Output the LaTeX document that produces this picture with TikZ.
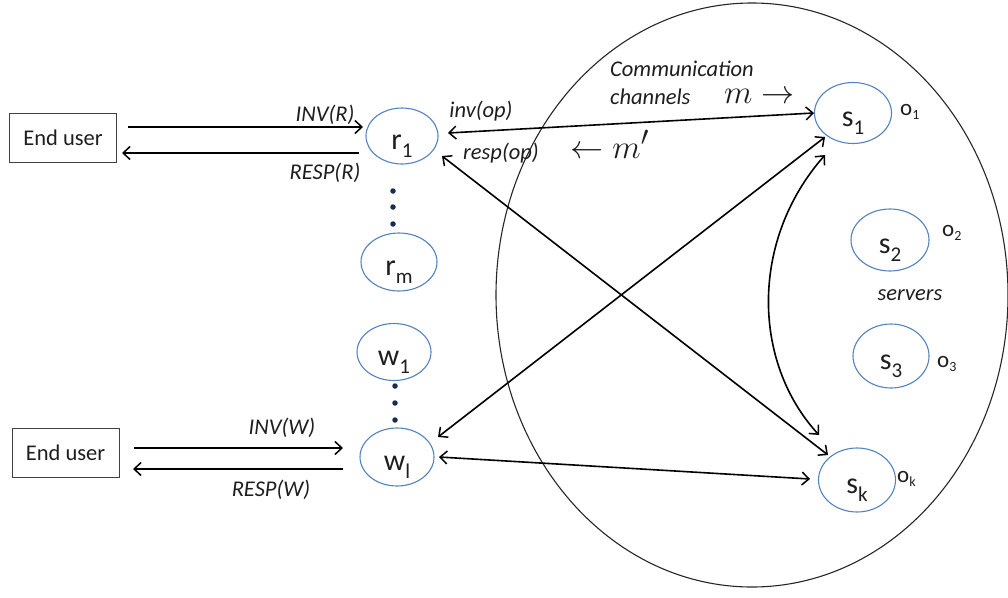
\documentclass[tikz,border=0pt]{standalone}
\usepackage{fontspec}
\setmainfont{Carlito}
\usetikzlibrary{shapes.geometric,arrows.meta}
\definecolor{nodeblue}{RGB}{84,130,188}
\definecolor{txt}{RGB}{30,30,30}
\definecolor{dotcol}{RGB}{25,45,80}
\newcommand\nsub[1]{\raisebox{-8pt}{\fontsize{21}{21}\selectfont #1}}
\newcommand\osub[1]{\raisebox{-4pt}{\fontsize{14}{14}\selectfont #1}}
\newcommand\bigmath[1]{\scalebox{1.33}{$#1$}}
\begin{document}
\begin{tikzpicture}[x=1pt,y=-1pt,
  proc/.style={ellipse,draw=nodeblue,line width=1.1pt,inner sep=0pt,
    minimum width=75pt,minimum height=58pt,text height=32pt,text depth=6pt,
    text=txt,font=\fontsize{30}{30}\selectfont},
  userbox/.style={draw=black!75,line width=1pt,inner sep=0pt,
    minimum width=107pt,minimum height=49pt,text=txt,font=\fontsize{22.5}{22.5}\selectfont},
  lbl/.style={inner sep=0pt,text=txt,font=\fontsize{22.5}{22.5}\selectfont\itshape},
  objlbl/.style={inner sep=0pt,anchor=base west,text=txt,font=\fontsize{23}{23}\selectfont},
  mathlbl/.style={inner sep=0pt,anchor=base west,text=txt,font=\fontsize{24.88}{24.88}\selectfont},
  tip/.tip={Straight Barb[length=7pt,width=13pt,line width=1.5pt]},
  arr/.style={line width=1.6pt,-tip},
  darr/.style={line width=1.6pt,tip-tip},
  vdot/.style={circle,fill=dotcol,inner sep=0pt,minimum size=5.5pt}]
\useasboundingbox (0,0) rectangle (1008,597);

% network region
\node[ellipse,draw=black!85,line width=1.1pt,inner sep=0pt,
  minimum width=512pt,minimum height=584pt] (net) at (752,295) {};

% end users
\node[userbox] (eu1) at (63,137.5) {End user};
\node[userbox] (eu2) at (65.5,452.5) {End user};

% clients
\node[proc,minimum width=72pt,minimum height=56pt] (r1) at (402,136) {r\nsub{1}};
\node[proc,minimum width=76pt] (rm) at (399,262) {r\nsub{m}};
\node[proc,minimum width=74pt,minimum height=57pt] (w1) at (394,352) {w\nsub{1}};
\node[proc,minimum width=74pt] (wl) at (397,457) {w\nsub{l}};

\node[vdot] (d1) at (393,191) {};
\node[vdot] (d2) at (393,207) {};
\node[vdot] (d3) at (393,224) {};
\node[vdot] (d4) at (395,386) {};
\node[vdot] (d5) at (395,403) {};
\node[vdot] (d6) at (395,420) {};

% servers
\node[proc,minimum width=77pt,minimum height=61pt] (s1) at (853,113) {s\nsub{1}};
\node[proc,minimum width=78pt,minimum height=62pt] (s2) at (890,240) {s\nsub{2}};
\node[proc,minimum width=76pt,minimum height=64pt] (s3) at (891,356) {s\nsub{3}};
\node[proc,minimum width=77pt,minimum height=64pt] (sk) at (857,480) {s\nsub{k}};

\node[objlbl] (o1) at (900,115) {o\osub{1}};
\node[objlbl] (o2) at (942,236) {o\osub{2}};
\node[objlbl] (o3) at (937,367) {o\osub{3}};
\node[objlbl] (ok) at (897,482) {o\osub{k}};

\node[lbl] (srv) at (910,295) {servers};

% user <-> client arrows
\draw[arr] ([shift={(65,-10.5)}]eu1.center) -- ([shift={(-39,-9)}]r1.center);
\draw[arr] ([shift={(-43,17)}]r1.center) -- ([shift={(59,15.5)}]eu1.center);
\draw[arr] ([shift={(68.5,-4.5)}]eu2.center) -- ([shift={(-54,-9)}]wl.center);
\draw[arr] ([shift={(-54,12)}]wl.center) -- ([shift={(67.5,16.5)}]eu2.center);

\node[lbl] (linvr) at (325,115) {INV(R)};
\node[lbl] (lrespr) at (325,173) {RESP(R)};
\node[lbl] (linvw) at (282,428) {INV(W)};
\node[lbl] (lrespw) at (271,490) {RESP(W)};

% channels
\draw[darr] ([shift={(46,-3)}]r1.center) -- ([shift={(-39,0)}]s1.center);
\draw[darr] ([shift={(40,20)}]r1.center) -- ([shift={(-29,-25)}]sk.center);
\draw[darr] ([shift={(41,-20)}]wl.center) -- ([shift={(-28,24)}]s1.center);
\draw[darr] ([shift={(42,0)}]wl.center) -- ([shift={(-47,-1)}]sk.center);
\draw[darr] ([shift={(-28,42)}]s1.center) .. controls (750,240) and (752,362) .. ([shift={(-38,-45)}]sk.center);

\node[lbl] (linv) at (481,111) {inv(op)};
\node[lbl] (lresp) at (501,153) {resp(op)};
\node[lbl,anchor=west] (lcomm) at (610,69) {Communication};
\node[lbl,anchor=west] (lchan) at (610,97) {channels};
\node[mathlbl] (lm) at (724,103) {\bigmath{m\rightarrow}};
\node[mathlbl] (lmp) at (570,158) {\bigmath{\leftarrow m'}};
\end{tikzpicture}
\end{document}
